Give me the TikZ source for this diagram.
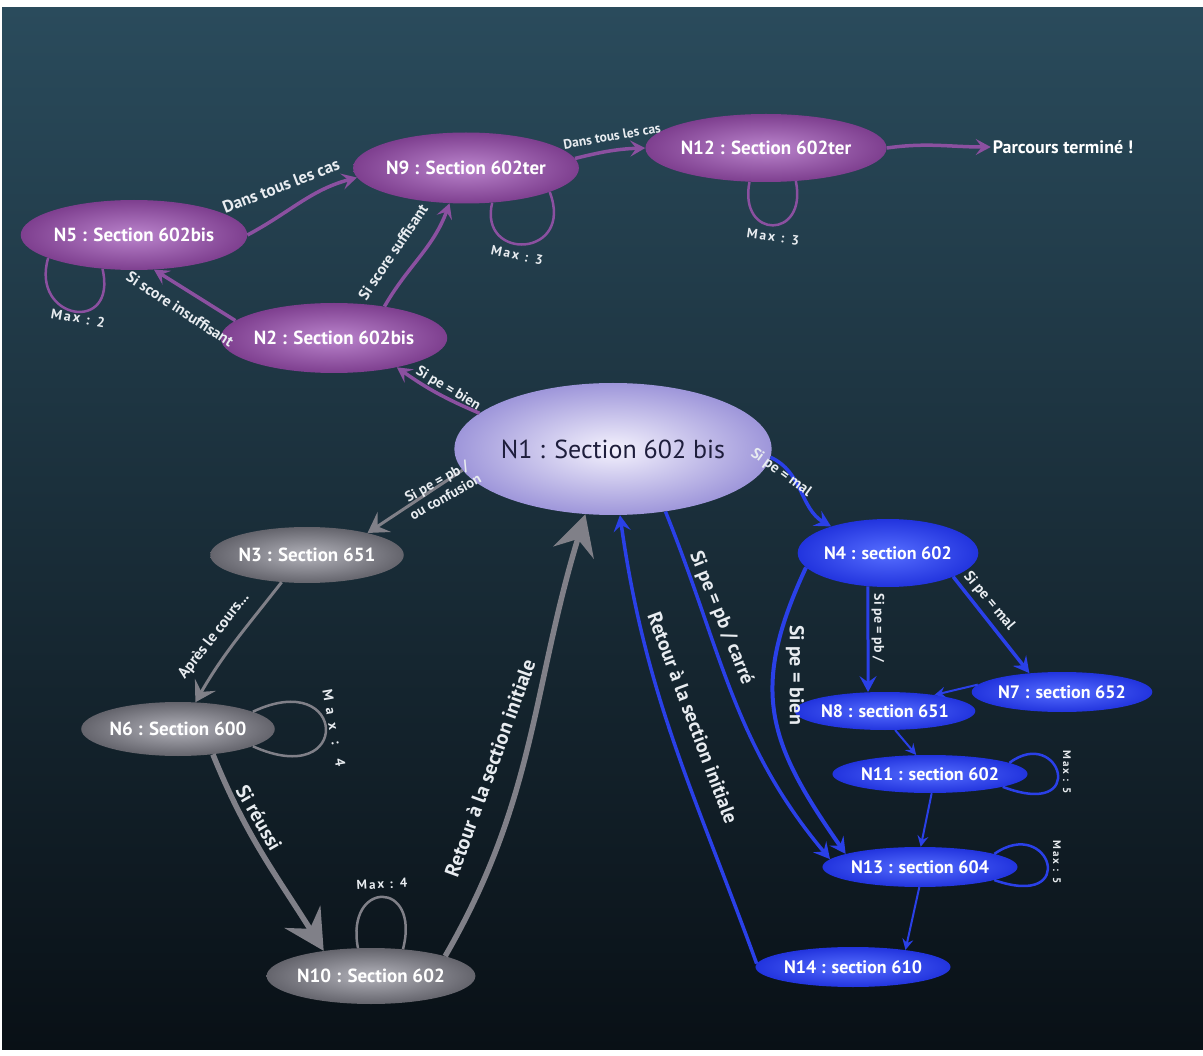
\documentclass[tikz,border=0pt]{standalone}
\usepackage{fontspec}
\setmainfont{PT Sans}
\usetikzlibrary{shapes.geometric,arrows.meta}

\definecolor{bgtop}{RGB}{42,75,92}
\definecolor{bgbot}{RGB}{9,16,22}
\definecolor{purpleout}{RGB}{126,63,143}
\definecolor{purplein}{RGB}{186,132,204}
\definecolor{purpleedge}{RGB}{139,80,160}
\definecolor{lavout}{RGB}{158,150,218}
\definecolor{lavin}{RGB}{244,242,253}
\definecolor{lavtext}{RGB}{30,30,60}
\definecolor{grayout}{RGB}{100,100,108}
\definecolor{grayin}{RGB}{178,178,186}
\definecolor{grayedge}{RGB}{128,128,136}
\definecolor{blueout}{RGB}{34,52,222}
\definecolor{bluein}{RGB}{86,110,255}
\definecolor{blueedge}{RGB}{42,64,232}
\definecolor{labeltext}{RGB}{232,236,240}

\tikzset{
  state/.style={ellipse, inner sep=0pt, text=white},
  purplestate/.style={state, shade, inner color=purplein, outer color=purpleout,
    font=\fontsize{19}{20}\selectfont\bfseries},
  lavstate/.style={state, shade, inner color=lavin, outer color=lavout, text=lavtext,
    font=\fontsize{26}{28}\selectfont},
  graystate/.style={state, shade, inner color=grayin, outer color=grayout,
    font=\fontsize{19}{20}\selectfont\bfseries},
  bluestate/.style={state, shade, inner color=bluein, outer color=blueout,
    font=\fontsize{18}{19}\selectfont\bfseries},
  elabel/.style={font=\fontsize{#1}{#1}\selectfont\bfseries, text=labeltext, inner sep=0pt},
  elabel/.default=16,
  maxlabel/.style={font=\fontsize{#1}{#1}\selectfont\bfseries\addfontfeature{LetterSpace=15}, text=labeltext, inner sep=0pt},
  maxlabel/.default=13,
  pedge/.style={draw=purpleedge, line width=3.5pt, -{Stealth[length=15pt,width=16pt,inset=6pt]}},
  ploop/.style={draw=purpleedge, line width=2.5pt},
  gedge/.style={draw=grayedge, line width=3pt, -{Stealth[length=20pt,width=24pt,inset=8pt]}},
  gthick/.style={draw=grayedge, line width=5.5pt, -{Stealth[length=40pt,width=42pt,inset=14pt]}},
  gloop/.style={draw=grayedge, line width=2.5pt},
  bedge/.style={draw=blueedge, line width=3.5pt, -{Stealth[length=16pt,width=17pt,inset=6pt]}},
  bthin/.style={draw=blueedge, line width=2pt, -{Stealth[length=11pt,width=11pt,inset=4pt]}},
  bloop/.style={draw=blueedge, line width=2.5pt},
}

\begin{document}
\begin{tikzpicture}[x=1pt,y=1pt]
  % page and background gradient
  \useasboundingbox (0,0) rectangle (1203,-1056);
  \fill[white] (0,0) rectangle (1203,-1056);
  \shade[top color=bgtop, bottom color=bgbot] (2,-8) rectangle (1203,-1049);

  % purple states
  \node[purplestate, minimum width=185pt, minimum height=70pt] (n5) at (134,-235) {N5 : Section 602bis};
  \node[purplestate, minimum width=188pt, minimum height=70pt] (n2) at (334,-338) {N2 : Section 602bis};
  \node[purplestate, minimum width=187pt, minimum height=71pt] (n9) at (466,-168) {N9 : Section 602ter};
  \node[purplestate, minimum width=173pt, minimum height=68pt] (n12) at (766,-148) {N12 : Section 602ter};
  \node[font=\fontsize{18}{19}\selectfont\bfseries, text=white, inner sep=2pt] (done) at (1063,-147) {Parcours terminé !};

  % central state
  \node[lavstate, minimum width=250pt, minimum height=132pt] (n1) at (613,-449) {N1 : Section 602 bis};

  % gray states
  \node[graystate, minimum width=180pt, minimum height=56pt] (n3) at (307,-555) {N3 : Section 651};
  \node[graystate, minimum width=180pt, minimum height=54pt] (n6) at (178,-729) {N6 : Section 600};
  \node[graystate, minimum width=178pt, minimum height=56pt] (n10) at (371,-976) {N10 : Section 602};

  % blue states
  \node[bluestate, minimum width=163pt, minimum height=68pt] (n4) at (888,-553) {N4 : section 602};
  \node[bluestate, minimum width=161pt, minimum height=40pt] (n7) at (1062,-692) {N7 : section 652};
  \node[bluestate, minimum width=164pt, minimum height=38pt] (n8) at (885,-711) {N8 : section 651};
  \node[bluestate, minimum width=174pt, minimum height=38pt] (n11) at (930,-774) {N11 : section 602};
  \node[bluestate, minimum width=174pt, minimum height=40pt] (n13) at (920,-867) {N13 : section 604};
  \node[bluestate, minimum width=173pt, minimum height=40pt] (n14) at (853,-967) {N14 : section 610};

  % purple connectors
  \draw[pedge] (n5.east) to[out=28,in=195] (n9.185);
  \draw[pedge] (n2.170) -- (n5.-60);
  \draw[pedge] (n2.32) to[out=60,in=-110] (n9.-115);
  \draw[pedge] (n9.5) to[out=14,in=182] (n12.west);
  \draw[pedge] (n12.east) to[out=8,in=180] (done.west);
  \draw[pedge] (n1.165) to[bend left=6] (n2.-25);
  \draw[ploop] (n5.195) .. controls (30,-320) and (118,-335) .. (n5.-133);
  \draw[ploop] (n9.-53) .. controls (478,-262) and (575,-258) .. (n9.-16);
  \draw[ploop] (n12.-116) .. controls (738,-240) and (808,-240) .. (n12.-48);

  % gray connectors
  \draw[gedge] (n1.188) -- (n3.20);
  \draw[gedge] (n3.-133) to[out=-128,in=60] (n6.57);
  \draw[gloop] (n6.13) .. controls +(95,45) and +(100,-45) .. (n6.-13);
  \draw[gthick] (n6.-36) to[out=-68,in=122] (n10.152);
  \draw[gloop] (n10.115) .. controls +(-13,68) and +(18,70) .. (n10.40);
  \draw[gthick] (n10.15) to[out=60,in=-107] (n1.-113);

  % blue connectors
  \draw[bedge] (n1.-3) to[out=-25,in=150] (n4.155);
  \draw[bedge] (n1.-50) to[out=-68,in=130] (n13.175);
  \draw[bedge, line width=4pt] (n4.190) to[out=-115,in=125,looseness=1.2] (n13.170);
  \draw[bedge] (n14.178) to[out=110,in=-82] (n1.-84);
  \draw[bedge, line width=3pt] (n4.-121) -- (n8.132);
  \draw[bedge] (n4.-20) -- (n7.150);
  \draw[bthin] (n7.175) -- (n8.18);
  \draw[bthin] (n8.-62) -- (n11.126);
  \draw[bthin] (n11.-85) -- (n13.88);
  \draw[bthin] (n13.-92) -- (n14.18);
  \draw[bloop] (n11.8) .. controls (1060,-725) and (1090,-820) .. (n11.-10);
  \draw[bloop] (n13.10) .. controls (1050,-815) and (1080,-910) .. (n13.-10);

  % connector labels
  \node[elabel=17, rotate=21] (l1) at (281,-186) {Dans tous les cas};
  \node[elabel=13.5, rotate=10] (l2) at (612,-136) {Dans tous les cas};
  \node[elabel=15.5, rotate=-33] (l3) at (180,-309) {Si score insuffisant};
  \node[elabel=15.5, rotate=56] (l4) at (393,-252) {Si score suffisant};
  \node[elabel=14.5, rotate=-31] (l5) at (448,-389) {Si pe = bien};
  \node[elabel=14.5, rotate=29, align=center] (l6) at (441,-489) {Si pe = pb /\\[3pt]ou confusion};
  \node[elabel=15.5, rotate=52] (l7) at (214,-636) {Après le cours...};
  \node[elabel=20, rotate=-60] (l8) at (259,-818) {Si réussi};
  \node[elabel=20.5, rotate=70] (l9) at (490,-768) {Retour à la section initiale};
  \node[elabel=15, rotate=-36] (l10) at (781,-473) {Si pe = mal};
  \node[elabel=19.5, rotate=-68] (l11) at (721,-618) {Si pe = pb / carré};
  \node[elabel=20, rotate=-90] (l12) at (795,-675) {Si pe = bien};
  \node[elabel=20, rotate=-69.5] (l13) at (693,-718) {Retour à la section initiale};
  \node[elabel=14, rotate=-90] (l14) at (878,-628) {Si pe = pb /};
  \node[elabel=15, rotate=-50] (l15) at (989,-601) {Si pe = mal};

  % loop limits
  \node[maxlabel=14, rotate=-10] (m5) at (78,-318) {Max : 2};
  \node[maxlabel=13.5, rotate=-12] (m9) at (517,-255) {Max : 3};
  \node[maxlabel=13.5, rotate=-8] (m12) at (773,-237) {Max : 3};
  \node[maxlabel=14, rotate=-80, font=\fontsize{14}{14}\selectfont\bfseries\addfontfeature{LetterSpace=55}] (m6) at (334,-728) {Max : 4};
  \node[maxlabel=13, rotate=3] (m10) at (382,-884) {Max : 4};
  \node[maxlabel=11, rotate=-90] (m11) at (1067,-772) {Max : 5};
  \node[maxlabel=11, rotate=-90] (m13) at (1057,-862) {Max : 5};
\end{tikzpicture}
\end{document}
